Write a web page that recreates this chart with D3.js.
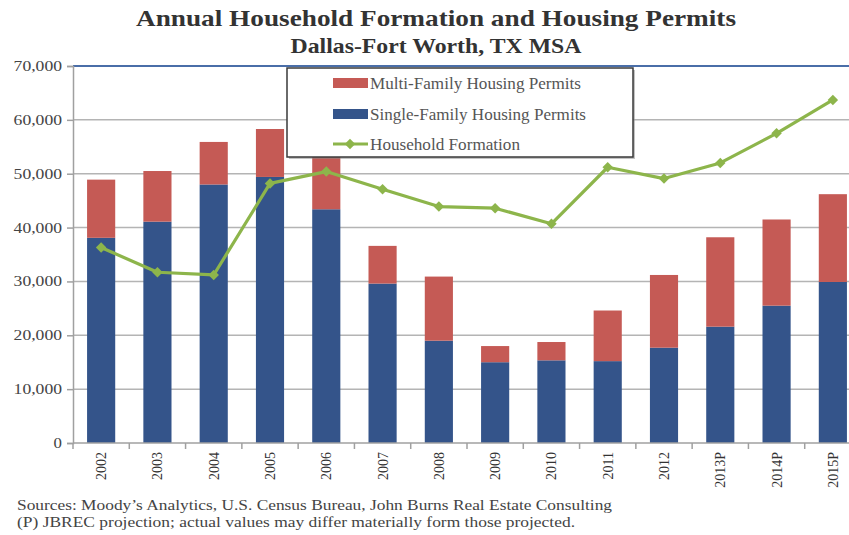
<!DOCTYPE html>
<html>
<head>
<meta charset="utf-8">
<script src="https://cdn.jsdelivr.net/npm/d3@7"></script>
<style>
  html, body { margin: 0; padding: 0; background: #fff; }
  svg { display: block; font-family: "Liberation Serif", "Times New Roman", serif; }
</style>
</head>
<body>
<svg id="chart" width="849" height="535"></svg>
<script>
const categories = ["2002","2003","2004","2005","2006","2007","2008","2009","2010","2011","2012","2013P","2014P","2015P"];
const singleFamily = [38100, 41100, 48000, 49400, 43400, 29600, 19000, 15000, 15350, 15200, 17700, 21600, 25500, 29900];
const multiFamily  = [10800, 9400, 7900, 8900, 11100, 7000, 11900, 3000, 3400, 9400, 13500, 16600, 16000, 16300];
const households   = [36300, 31700, 31200, 48200, 50400, 47100, 43900, 43600, 40700, 51200, 49100, 52000, 57500, 63700];
const yTicks = [0, 10000, 20000, 30000, 40000, 50000, 60000, 70000];
const seriesNames = ["Multi-Family Housing Permits", "Single-Family Housing Permits", "Household Formation"];

const colors = { multi: "#c55a55", single: "#34548a", hh: "#8db54b" };
const svg = d3.select("#chart");

const x = d3.scaleBand().domain(categories).range([73, 861]).paddingInner(0.5).paddingOuter(0.25);
const y = d3.scaleLinear().domain([0, 70000]).range([443, 66]);

// gridlines
svg.append("g").selectAll("line").data(yTicks.filter(d => d > 0)).join("line")
  .attr("x1", 73).attr("x2", 849)
  .attr("y1", d => y(d)).attr("y2", d => y(d))
  .attr("stroke", d => d === 70000 ? "#4a6ea8" : "#b4b4b4")
  .attr("stroke-width", d => d === 70000 ? 2 : 1.5);

// y axis
const yAxis = d3.axisLeft(y).tickValues(yTicks).tickSize(6).tickFormat(d3.format(","));
const gy = svg.append("g").attr("transform", "translate(73,0)").call(yAxis);
gy.select(".domain").attr("stroke", "#a0a0a0").attr("stroke-width", 1.5);
gy.selectAll(".tick line").attr("stroke", "#a0a0a0").attr("stroke-width", 1.5);
gy.selectAll(".tick text").attr("x", -11).attr("font-size", 14).attr("fill", "#444")
  .attr("font-family", "Liberation Serif").attr("textLength", function(d){ return d3.format(",")(d).length * 8.4 - (d>0?2:0); })
  .attr("lengthAdjust", "spacingAndGlyphs");

// bars
const gBars = svg.append("g");
gBars.selectAll("rect.single").data(categories).join("rect").attr("class", "single")
  .attr("x", d => x(d)).attr("width", x.bandwidth())
  .attr("y", (d, i) => y(singleFamily[i]))
  .attr("height", (d, i) => y(0) - y(singleFamily[i]))
  .attr("fill", colors.single);
gBars.selectAll("rect.multi").data(categories).join("rect").attr("class", "multi")
  .attr("x", d => x(d)).attr("width", x.bandwidth())
  .attr("y", (d, i) => y(singleFamily[i] + multiFamily[i]))
  .attr("height", (d, i) => y(singleFamily[i]) - y(singleFamily[i] + multiFamily[i]))
  .attr("fill", colors.multi);

// x axis
const gx = svg.append("g").attr("transform", "translate(0,443)");
gx.append("line").attr("x1", 73).attr("x2", 849).attr("y1", 0).attr("y2", 0)
  .attr("stroke", "#a0a0a0").attr("stroke-width", 1.5);
const step = x.step();
gx.selectAll("line.tk").data(categories).join("line").attr("class", "tk")
  .attr("x1", d => x(d) - (x.paddingOuter() * step)).attr("x2", d => x(d) - (x.paddingOuter() * step))
  .attr("y1", 0).attr("y2", 6).attr("stroke", "#a0a0a0").attr("stroke-width", 1.5);
gx.selectAll("text").data(categories).join("text")
  .attr("transform", d => `translate(${x(d) + x.bandwidth() / 2 + 5},9) rotate(-90)`)
  .attr("text-anchor", "end").attr("font-size", 14).attr("fill", "#333")
  .text(d => d);

// household line
const line = d3.line().x((d, i) => x(categories[i]) + x.bandwidth() / 2).y(d => y(d));
svg.append("path").datum(households).attr("d", line)
  .attr("fill", "none").attr("stroke", colors.hh).attr("stroke-width", 3.2).attr("stroke-linejoin", "round");
const diamond = d3.symbol().type(d3.symbolDiamond2).size(70);
svg.append("g").selectAll("path").data(households).join("path")
  .attr("transform", (d, i) => `translate(${x(categories[i]) + x.bandwidth() / 2},${y(d)})`)
  .attr("d", diamond).attr("fill", colors.hh);

// legend
const lg = svg.append("g");
lg.append("rect").attr("x", 289).attr("y", 70).attr("width", 346).attr("height", 89)
  .attr("fill", "#888").attr("opacity", 0.5);
lg.append("rect").attr("x", 287).attr("y", 68).attr("width", 346).attr("height", 89)
  .attr("fill", "#fff").attr("stroke", "#3a3a3a").attr("stroke-width", 1.5);
const rowsY = [83, 114, 144];
const textW = [211, 216, 150];
lg.append("rect").attr("x", 333).attr("y", rowsY[0] - 5).attr("width", 35).attr("height", 10).attr("fill", colors.multi);
lg.append("rect").attr("x", 333).attr("y", rowsY[1] - 5).attr("width", 35).attr("height", 10).attr("fill", colors.single);
lg.append("line").attr("x1", 333).attr("x2", 368).attr("y1", rowsY[2]).attr("y2", rowsY[2])
  .attr("stroke", colors.hh).attr("stroke-width", 3.2);
lg.append("path").attr("transform", `translate(350,${rowsY[2]})`).attr("d", diamond).attr("fill", colors.hh);
lg.selectAll("text").data(seriesNames).join("text")
  .attr("x", 370).attr("y", (d, i) => rowsY[i] + 5.5)
  .attr("font-size", 16).attr("fill", "#555")
  .attr("textLength", (d, i) => textW[i]).attr("lengthAdjust", "spacingAndGlyphs")
  .text(d => d);

// titles
svg.append("text").attr("x", 436).attr("y", 26).attr("text-anchor", "middle")
  .attr("font-size", 24).attr("font-weight", "bold").attr("fill", "#333")
  .attr("textLength", 600).attr("lengthAdjust", "spacingAndGlyphs")
  .text("Annual Household Formation and Housing Permits");
svg.append("text").attr("x", 436).attr("y", 53).attr("text-anchor", "middle")
  .attr("font-size", 21).attr("font-weight", "bold").attr("fill", "#333")
  .attr("textLength", 291).attr("lengthAdjust", "spacingAndGlyphs")
  .text("Dallas-Fort Worth, TX MSA");

// footer
svg.append("text").attr("x", 17).attr("y", 510).attr("font-size", 15).attr("fill", "#444")
  .attr("textLength", 595).attr("lengthAdjust", "spacingAndGlyphs")
  .text("Sources: Moody\u2019s Analytics, U.S. Census Bureau, John Burns Real Estate Consulting");
svg.append("text").attr("x", 17).attr("y", 527).attr("font-size", 15).attr("fill", "#444")
  .attr("textLength", 558).attr("lengthAdjust", "spacingAndGlyphs")
  .text("(P) JBREC projection; actual values may differ materially form those projected.");
</script>
</body>
</html>
